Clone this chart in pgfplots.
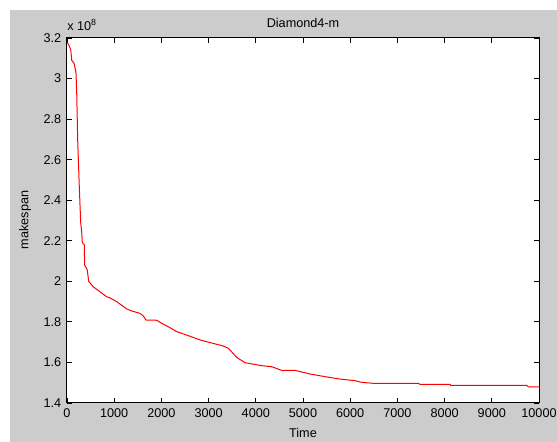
\documentclass[border=0pt]{standalone}
\usepackage{pgfplots}
\pgfplotsset{compat=1.18}
\usepackage{fontspec}
\setmainfont{Liberation Sans}
\definecolor{bggray}{RGB}{204,204,204}
\begin{document}
\fontsize{9.5}{11}\selectfont
\begin{tikzpicture}[x=0.75pt,y=0.75pt]
\useasboundingbox (0,0) rectangle (557,442);
\fill[bggray] (10,0) rectangle (557,432);
\begin{axis}[
  at={(50.25pt,29.25pt)}, anchor=south west,
  scale only axis, width=354pt, height=273.75pt,
  xmin=0, xmax=10000, ymin=1.4, ymax=3.2,
  xtick={0,1000,...,10000},
  ytick={1.4,1.6,1.8,2,2.2,2.4,2.6,2.8,3,3.2},
  yticklabels={1.4,1.6,1.8,2,2.2,2.4,2.6,2.8,3,3.2},
  scaled x ticks=false, scaled y ticks=false,
  /pgf/number format/1000 sep={},
  /pgf/number format/assume math mode=true,
  tick align=inside, major tick length=4pt,
  tick style={black, line width=0.6pt},
  axis line style={black, line width=0.75pt},
  axis background/.style={fill=white},
  tick label style={font=\fontsize{9.5}{11}\selectfont, black},
  xticklabel style={yshift=-1pt},
  yticklabel style={xshift=-1pt},
  clip=true,
]
\addplot[red, line width=0.75pt] coordinates {
(0,3.18) (50,3.16) (80,3.14) (100,3.09) (150,3.075) (190,3.03) (205,2.94)
(226,2.70) (260,2.47) (290,2.29) (311,2.245) (325,2.19) (367,2.18) (374,2.08)
(430,2.056) (459,2.00) (557,1.973) (840,1.924) (911,1.918) (1052,1.90)
(1123,1.888) (1264,1.864) (1370,1.854) (1547,1.842) (1617,1.829) (1674,1.809)
(1900,1.808) (2006,1.793) (2147,1.776) (2324,1.752) (2536,1.735) (2818,1.711)
(3030,1.698) (3311,1.681) (3417,1.67) (3595,1.625) (3771,1.599) (4124,1.584)
(4336,1.579) (4548,1.561) (4830,1.561) (5148,1.543) (5466,1.530) (5784,1.518)
(6102,1.51) (6243,1.502) (6490,1.497) (7443,1.497) (7479,1.492) (8114,1.492)
(8129,1.487) (9739,1.487) (9774,1.48) (10000,1.48)
};
\end{axis}
\node at (303,419) {Diamond4-m};
\node at (303,9) {Time};
\node[rotate=90] at (25,222) {makespan};
\node[anchor=base west, inner sep=0pt] at (67,411) {x 10\textsuperscript{8}};
\end{tikzpicture}
\end{document}
